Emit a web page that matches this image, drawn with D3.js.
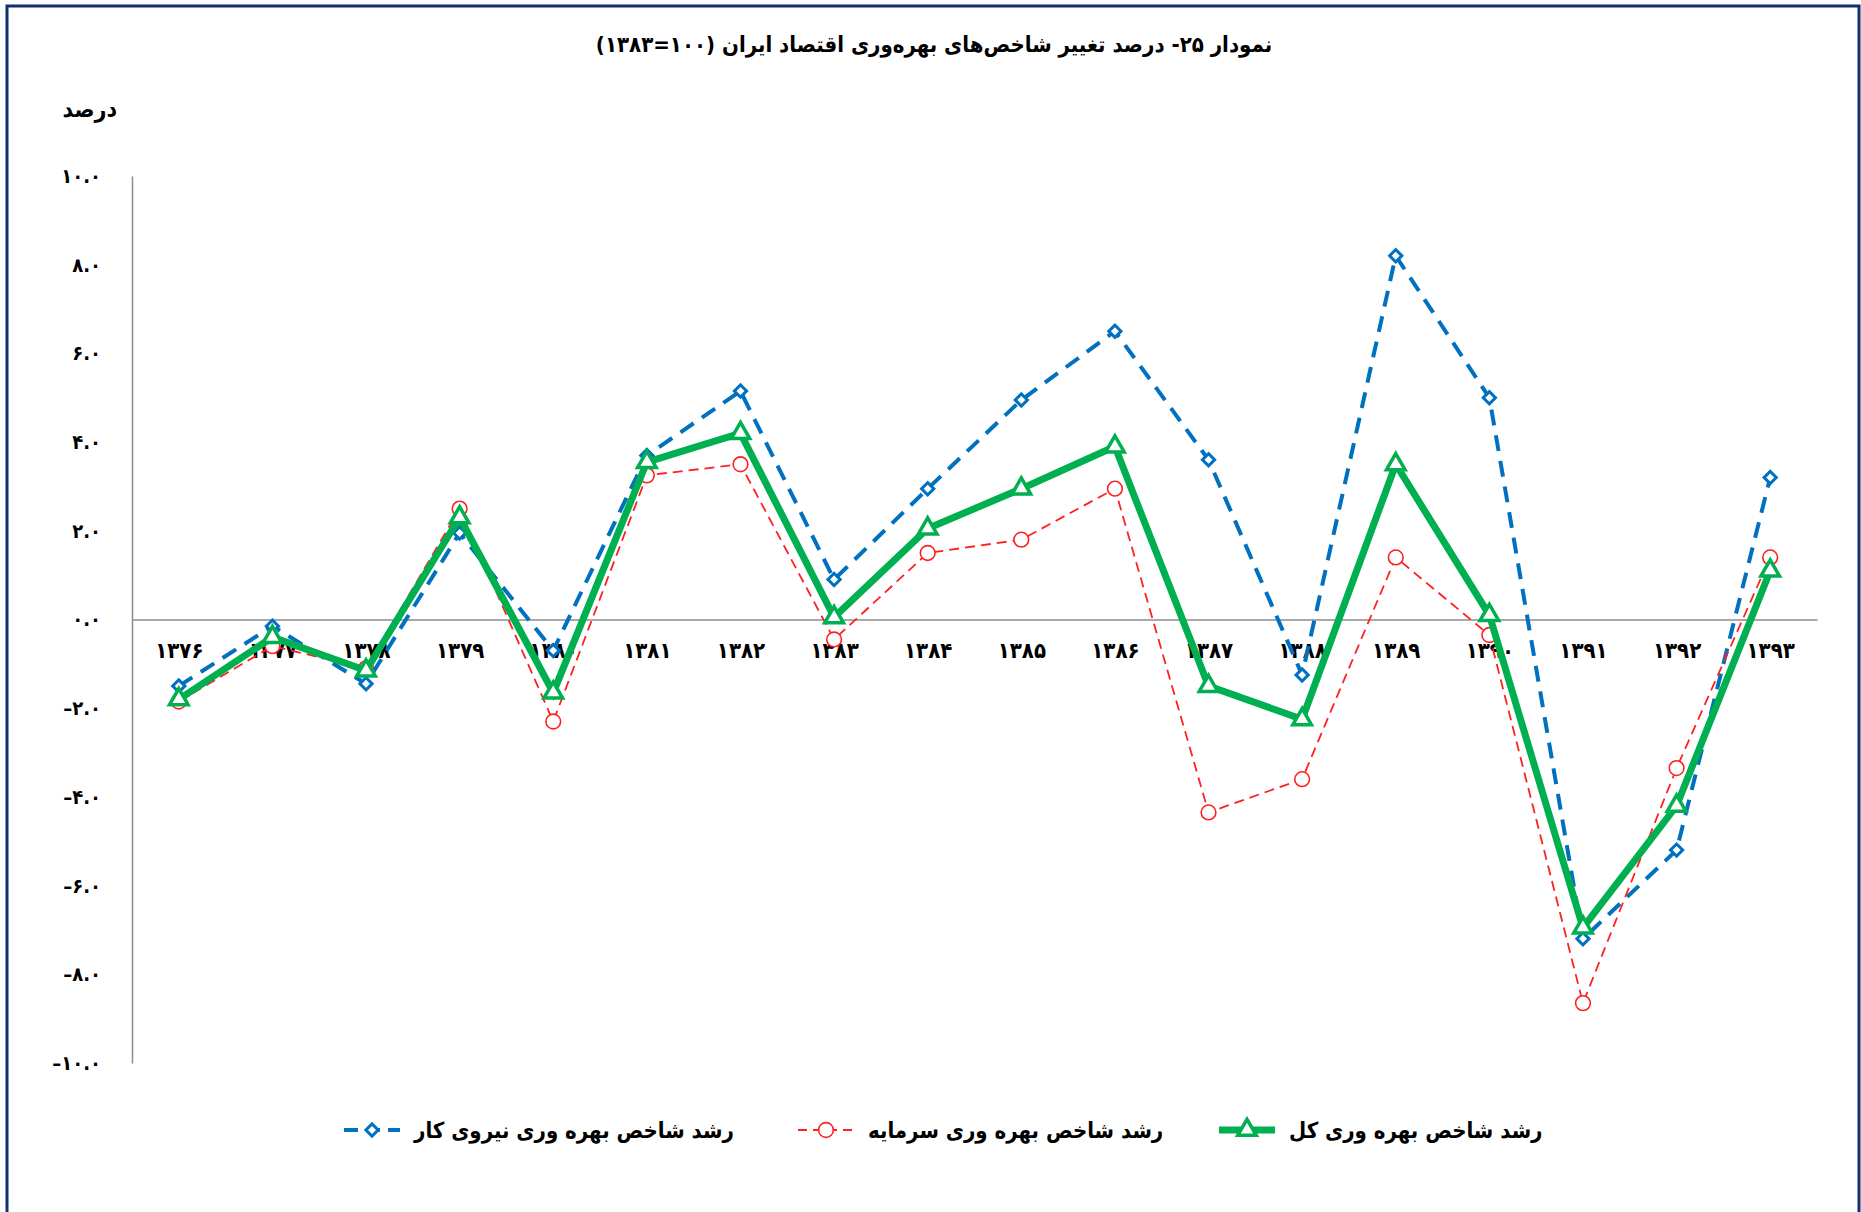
<!DOCTYPE html>
<html>
<head>
<meta charset="utf-8">
<script src="https://cdn.jsdelivr.net/npm/d3@7"></script>
<style>
  body { margin: 0; background: #fff; }
  text { font-family: "DejaVu Sans Condensed", "DejaVu Sans", sans-serif; font-weight: bold; fill: #000; }
</style>
</head>
<body>
<svg id="chart"></svg>
<script>
var w = 1861;
var h = 1212;

// values
var years = ["۱۳۷۶", "۱۳۷۷", "۱۳۷۸", "۱۳۷۹", "۱۳۸۰", "۱۳۸۱", "۱۳۸۲", "۱۳۸۳", "۱۳۸۴",
             "۱۳۸۵", "۱۳۸۶", "۱۳۸۷", "۱۳۸۸", "۱۳۸۹", "۱۳۹۰", "۱۳۹۱", "۱۳۹۲", "۱۳۹۳"];
var labor   = [-1.5, -0.15, -1.45, 1.95, -0.7, 3.7, 5.15, 0.9, 2.95, 4.95, 6.5, 3.6, -1.25, 8.2, 5.0, -7.2, -5.2, 3.2];
var capital = [-1.85, -0.6, -1.1, 2.5, -2.3, 3.25, 3.5, -0.45, 1.5, 1.8, 2.95, -4.35, -3.6, 1.4, -0.35, -8.65, -3.35, 1.4];
var total   = [-1.8, -0.4, -1.15, 2.3, -1.65, 3.55, 4.2, 0.05, 2.05, 2.95, 3.9, -1.5, -2.25, 3.5, 0.1, -6.95, -4.2, 1.1];
var yTicks = [-10, -8, -6, -4, -2, 0, 2, 4, 6, 8, 10];
var yTickLabels = ["–۱۰.۰", "–۸.۰", "–۶.۰", "–۴.۰", "–۲.۰", "۰.۰", "۲.۰", "۴.۰", "۶.۰", "۸.۰", "۱۰.۰"];
var seriesNames = ["رشد شاخص بهره وری نیروی کار", "رشد شاخص بهره وری سرمایه", "رشد شاخص بهره وری کل"];

var svg = d3.select("#chart")
    .attr("width", w)
    .attr("height", h);

// frame
svg.append("rect")
    .attr("x", 7).attr("y", 6)
    .attr("width", 1852).attr("height", h + 20)
    .attr("fill", "none")
    .attr("stroke", "#10306e")
    .attr("stroke-width", 3);

var x = d3.scalePoint()
    .domain(years)
    .range([132, 1817])
    .padding(0.5);

var y = d3.scaleLinear()
    .domain([-10, 10])
    .range([1063, 176]);

// title
svg.append("text")
    .attr("x", 934).attr("y", 52)
    .attr("text-anchor", "middle")
    .style("direction", "rtl")
    .style("font-size", "22px")
    .text("نمودار ۲۵- درصد تغییر شاخص‌های بهره‌وری اقتصاد ایران (۱۰۰=۱۳۸۳)");

svg.append("text")
    .attr("x", 117).attr("y", 117)
    .attr("text-anchor", "end")
    .style("font-size", "23px")
    .text("درصد");

// y axis
var yAxis = svg.append("g")
    .attr("transform", "translate(132,0)")
    .call(d3.axisLeft(y)
        .tickValues(yTicks)
        .tickSize(0)
        .tickPadding(31)
        .tickFormat(function(d, i) { return yTickLabels[i]; }));
yAxis.select(".domain").attr("stroke", "#8c8c8c").attr("stroke-width", 1.5);
yAxis.selectAll("text").style("font-size", "20px").style("font-family", null);

// x axis along zero
var xAxis = svg.append("g")
    .attr("transform", "translate(0," + y(0) + ")")
    .call(d3.axisBottom(x).tickSize(0).tickPadding(23));
xAxis.select(".domain").attr("stroke", "#8c8c8c").attr("stroke-width", 1.5);
xAxis.selectAll("text").style("font-size", "22px").style("font-family", null);

var series = [
    {name: seriesNames[0], values: labor,   color: "#0070c0", width: 4,   dash: "16,10", marker: "diamond"},
    {name: seriesNames[1], values: capital, color: "#ff2020", width: 1.8, dash: "10,6",  marker: "circle"},
    {name: seriesNames[2], values: total,   color: "#00b050", width: 7,   dash: null,    marker: "triangle"}
];

// diamond = square turned 45 degrees
var symbols = {
    diamond:  d3.symbol().type(d3.symbolSquare).size(75),
    circle:   d3.symbol().type(d3.symbolCircle).size(170),
    triangle: d3.symbol().type(d3.symbolTriangle).size(150)
};
var markerStroke = {diamond: 3, circle: 1.6, triangle: 3.5};
var markerRotate = {diamond: 45, circle: 0, triangle: 0};

var line = d3.line()
    .x(function(d, i) { return x(years[i]); })
    .y(function(d) { return y(d); });

series.forEach(function(s) {
    var g = svg.append("g");
    g.append("path")
        .attr("d", line(s.values))
        .attr("fill", "none")
        .attr("stroke", s.color)
        .attr("stroke-width", s.width)
        .attr("stroke-dasharray", s.dash)
        .attr("stroke-linejoin", "miter");
    g.selectAll("path.pt")
        .data(s.values)
        .enter()
        .append("path")
            .attr("class", "pt")
            .attr("transform", function(d, i) {
                return "translate(" + x(years[i]) + "," + y(d) + ") rotate(" + markerRotate[s.marker] + ")";
            })
            .attr("d", symbols[s.marker])
            .attr("fill", "#fff")
            .attr("stroke", s.color)
            .attr("stroke-width", markerStroke[s.marker]);
});

// legend
var legendX = [344, 798, 1219];
var legend = svg.selectAll("g.legend")
    .data(series)
    .enter()
    .append("g")
        .attr("class", "legend")
        .attr("transform", function(d, i) { return "translate(" + legendX[i] + ",1130)"; });

legend.append("line")
    .attr("x1", 0).attr("x2", 56)
    .attr("stroke", function(d) { return d.color; })
    .attr("stroke-width", function(d) { return d.width; })
    .attr("stroke-dasharray", function(d) { return d.dash ? (d.width > 3 ? "14,8" : "9,6") : null; });

legend.append("path")
    .attr("transform", function(d) { return "translate(28,0) rotate(" + markerRotate[d.marker] + ")"; })
    .attr("d", function(d) { return symbols[d.marker](); })
    .attr("fill", "#fff")
    .attr("stroke", function(d) { return d.color; })
    .attr("stroke-width", function(d) { return markerStroke[d.marker]; });

legend.append("text")
    .attr("x", 70)
    .attr("y", 8)
    .style("font-size", "22px")
    .text(function(d) { return d.name; });
</script>
</body>
</html>
